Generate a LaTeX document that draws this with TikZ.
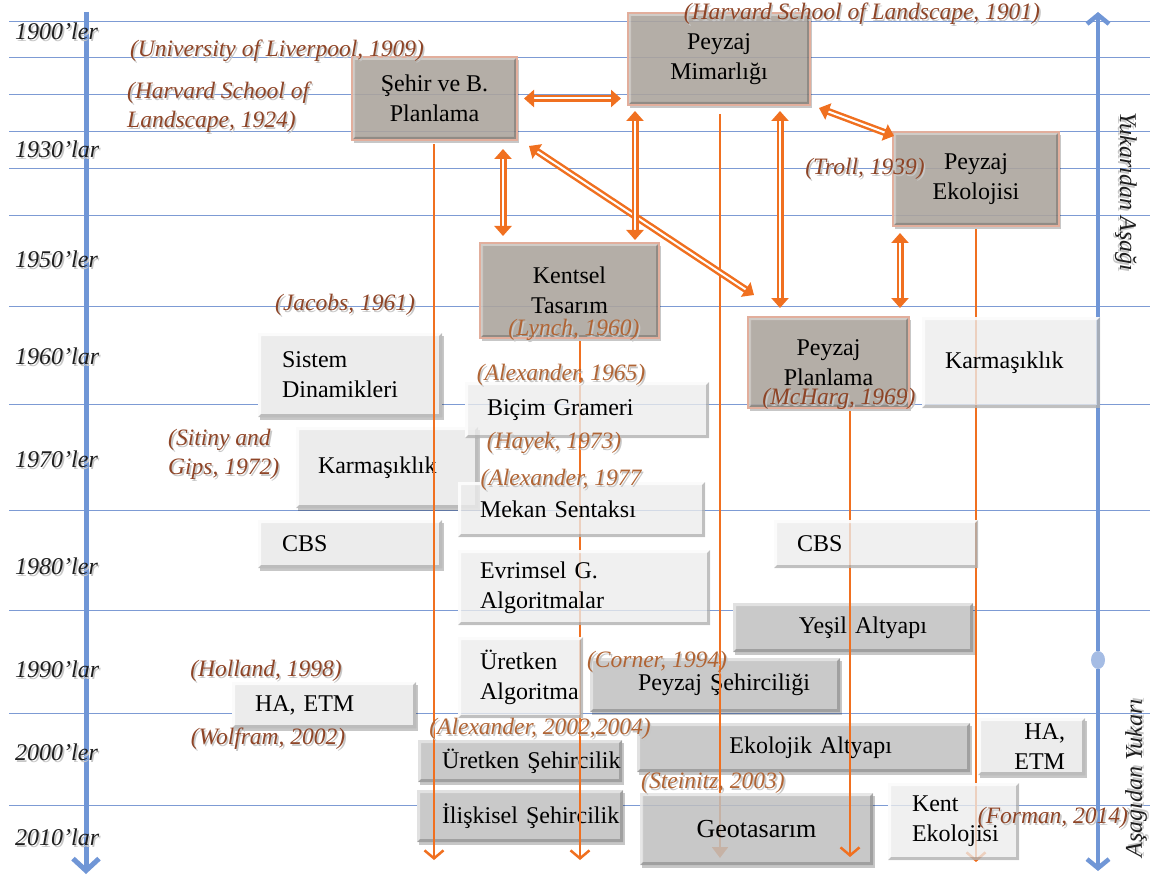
\documentclass[tikz,border=0pt]{standalone}
\usepackage{fontspec}
\setmainfont{Liberation Serif}
\usetikzlibrary{arrows.meta,shadows,shapes.geometric}
\hyphenpenalty=10000
\exhyphenpenalty=10000

\definecolor{gridB}{RGB}{125,155,212}
\definecolor{axisB}{RGB}{112,150,214}
\definecolor{orA}{RGB}{240,112,32}
\definecolor{brownF}{RGB}{178,170,162}
\definecolor{pinkE}{RGB}{226,174,156}
\definecolor{lightF}{RGB}{236,236,236}
\definecolor{darkF}{RGB}{201,201,201}
\definecolor{citeA}{RGB}{142,68,38}
\definecolor{citeB}{RGB}{176,100,52}
\definecolor{yearC}{RGB}{30,30,30}

% text with a soft offset shadow
\newcommand\shd[1]{\leavevmode\rlap{\kern1.6pt\raisebox{-2pt}{\textcolor{black!22}{#1}}}#1}

\tikzset{
  bevel/.style={path picture={
    \fill[white,opacity=#1] (path picture bounding box.south west) -- (path picture bounding box.north west)
      -- (path picture bounding box.north east) -- ([shift={(-3pt,-3pt)}]path picture bounding box.north east)
      -- ([shift={(3pt,-3pt)}]path picture bounding box.north west) -- ([shift={(3pt,3pt)}]path picture bounding box.south west) -- cycle;
    \fill[black,opacity=0.2] (path picture bounding box.south west) -- (path picture bounding box.south east)
      -- (path picture bounding box.north east) -- ([shift={(-3pt,-3pt)}]path picture bounding box.north east)
      -- ([shift={(-3pt,3pt)}]path picture bounding box.south east) -- ([shift={(3pt,3pt)}]path picture bounding box.south west) -- cycle;
  }},
  softshadow/.style={drop shadow={shadow xshift=2pt, shadow yshift=-3pt, opacity=0.22, fill=black}},
  box/.style={rectangle, inner sep=0pt, font=\fontsize{24}{30}\selectfont, text=black, align=center},
  brownbox/.style={box, fill=brownF, fill opacity=0.86, text opacity=1, draw=pinkE, line width=2pt, bevel=0.3, softshadow},
  lightbox/.style={box, fill=lightF, bevel=0.8, softshadow},
  overbox/.style={box, fill=lightF, fill opacity=0.78, text opacity=1, bevel=0.8},
  darkbox/.style={box, fill=darkF, bevel=0.45, softshadow},
  sz/.style 2 args={minimum width=#1pt, minimum height=#2pt},
  year/.style={anchor=west, inner sep=0pt, text=yearC, font=\fontsize{24}{29}\selectfont\itshape},
  cite/.style={inner sep=0pt, text=citeA, font=\fontsize{23.5}{29}\selectfont\itshape},
  citeb/.style={cite, text=citeB},
  gridline/.style={draw=gridB, line width=0.9pt},
  axis/.style={draw=axisB, line width=5pt},
  sgl/.style={draw=orA, line width=2.5pt, -{Straight Barb[length=8pt,width=19pt]}},
  dbl/.style={draw=orA, line width=2.5pt, double=white, double distance=2pt,
    {Triangle[length=10pt,width=17pt]}-{Triangle[length=10pt,width=17pt]}},
}

\begin{document}
\begin{tikzpicture}[x=1pt,y=-1pt]
\useasboundingbox (0,0) rectangle (1158,877);

% decade grid
\foreach \yy in {21,57,94,131,168,215,306,404,510,610,713,805}
  \draw[gridline] (9,\yy) -- (1150,\yy);

% time axes
\coordinate (lt) at (86,12);
\coordinate (lb) at (86,874);
\draw[axis, -{Straight Barb[length=12pt,width=26pt]}] (lt) -- (lb);
\node[ellipse, minimum width=14pt, minimum height=18pt, inner sep=0pt,
      fill={rgb,255:red,165;green,188;blue,228}, draw=none] (mid) at (1098,660) {};
\coordinate (rt) at (1098,12);
\coordinate (rb) at (1098,871);
\draw[axis, line width=4.5pt, -{Straight Barb[length=9pt,width=22pt]}] (mid) -- (rt);
\draw[axis, line width=4.5pt, -{Straight Barb[length=9pt,width=22pt]}] (mid) -- (rb);

% main disciplines
\node[brownbox, sz={165}{83}] (seh) at (434.5,98.5) {Şehir ve B.\\Planlama};
\node[brownbox, sz={182}{92}] (pmim) at (719,59) {Peyzaj\\Mimarlığı};
\node[brownbox, sz={166}{94}] (peko) at (976,179) {Peyzaj\\Ekolojisi};
\node[brownbox, sz={179}{95}] (ken) at (569.5,290.5) {Kentsel\\Tasarım};
\node[brownbox, sz={161}{91}] (ppla) at (828.5,362.5) {Peyzaj\\Planlama};

% approaches lying under the lines
\node[lightbox, sz={184}{84}, align=left, inner xsep=24pt, text width=136pt] (sis) at (350,375) {Sistem\\Dinamikleri};
\node[lightbox, sz={182}{81}, align=left, inner xsep=22pt, text width=138pt] (karL) at (387,467.5) {Karmaşıklık};
\node[lightbox, sz={184}{48}, align=left, inner xsep=24pt, text width=136pt] (cbsL) at (350,544) {CBS};
\node[lightbox, sz={184}{46}, align=left, inner xsep=23pt, text width=138pt] (haL) at (324,705) {HA, ETM};
\node[lightbox, sz={107}{57}, align=right, inner xsep=20pt, text width=67pt] (haR) at (1031.5,746.5) {HA,\\ETM};
\node[darkbox, sz={240}{49}, align=right, inner xsep=46pt, text width=148pt] (yes) at (853,627.5) {Yeşil Altyapı};
\node[darkbox, sz={250}{54}, align=right, inner xsep=30pt, text width=190pt] (psh) at (715,685) {Peyzaj Şehirciliği};
\node[darkbox, sz={333}{49}, align=right, inner xsep=78pt, text width=177pt] (eko) at (803.5,747.5) {Ekolojik Altyapı};
\node[darkbox, sz={204}{42}, align=left, inner xsep=24pt, text width=156pt] (ureS) at (520,761) {\mbox{Üretken Şehircilik}};
\node[darkbox, sz={206}{52}, align=left, inner xsep=25pt, text width=156pt] (ili) at (520,816) {\mbox{İlişkisel Şehircilik}};

% lines of influence
\coordinate (jE) at (720,858);
\draw[draw=orA, line width=2.5pt, shorten <=8pt, -{Triangle[length=11pt,width=16pt]}] (pmim.south -| jE) -- (jE);
\node[darkbox, fill opacity=0.8, text opacity=1, sz={233}{72}, font=\fontsize{26}{30}\selectfont] (geo) at (756.5,829) {Geotasarım};

\coordinate (hE) at (434,860);
\coordinate (iE) at (580,860);
\coordinate (kE) at (850,857);
\coordinate (lE) at (976,862);
\draw[sgl, shorten <=3pt] (seh.south -| hE) -- (hE);
\draw[sgl, shorten <=2pt] (ken.south -| iE) -- (iE);
\draw[sgl, shorten <=2pt] (ppla.south -| kE) -- (kE);
\draw[sgl, shorten <=2pt] (peko.south -| lE) -- (lE);

\draw[dbl, shorten <=6pt, shorten >=6pt] (seh.east) -- (pmim.west |- seh.east);
\draw[dbl, shorten <=8pt, shorten >=6pt] ([xshift=68.5pt]seh.south) -- ([xshift=-66.5pt]ken.north);
\draw[dbl] ([shift={(11pt,-5pt)}]seh.south east) -- ([shift={(7pt,21pt)}]ppla.north west);
\draw[dbl, shorten <=5pt, shorten >=2pt] ([xshift=-84pt]pmim.south) -- ([xshift=65.5pt]ken.north);
\draw[dbl, shorten <=5pt, shorten >=8pt] ([xshift=61pt]pmim.south) -- ([xshift=-48.5pt]ppla.north);
\draw[dbl] ([shift={(8pt,-2pt)}]pmim.south east) -- ([shift={(2pt,-5pt)}]peko.north west);
\draw[dbl, shorten <=6pt, shorten >=8pt] ([xshift=-76pt]peko.south) -- ([xshift=71.5pt]ppla.north);

% approaches lying over the lines
\node[overbox, sz={244}{56}, align=left, inner xsep=22pt, text width=200pt] (bic) at (587,410) {Biçim Grameri};
\node[overbox, sz={247}{55}, align=left, inner xsep=22pt, text width=203pt] (mek) at (581.5,509.5) {Mekan Sentaksı};
\node[overbox, sz={252}{75}, align=left, inner xsep=22pt, text width=208pt] (evr) at (584,587.5) {Evrimsel G.\\Algoritmalar};
\node[overbox, sz={125}{81}, align=left, inner xsep=22pt, text width=81pt] (ureA) at (520.5,677.5) {Üretken\\\mbox{Algoritma}};
\node[overbox, sz={204}{48}, align=left, inner xsep=23pt, text width=158pt] (cbsR) at (876,544) {CBS};
\node[overbox, sz={178}{91}, align=left, inner xsep=23pt, text width=132pt] (karR) at (1011,362.5) {Karmaşıklık};
\node[overbox, sz={131}{77}, align=left, inner xsep=24pt, text width=83pt] (kent) at (953.5,821.5) {Kent\\\mbox{Ekolojisi}};

% decades
\node[year] (d1900) at (15,32) {\shd{1900’ler}};
\node[year] (d1930) at (15,150) {\shd{1930’lar}};
\node[year] (d1950) at (15,260) {\shd{1950’ler}};
\node[year] (d1960) at (15,357) {\shd{1960’lar}};
\node[year] (d1970) at (15,460) {\shd{1970’ler}};
\node[year] (d1980) at (15,567) {\shd{1980’ler}};
\node[year] (d1990) at (15,670) {\shd{1990’lar}};
\node[year] (d2000) at (15,753) {\shd{2000’ler}};
\node[year] (d2010) at (15,838) {\shd{2010’lar}};

% direction labels
\node[rotate=-90, inner sep=0pt, text=yearC, font=\fontsize{24}{29}\selectfont\itshape] (down) at (1125,192) {\shd{Yukarıdan Aşağı}};
\node[rotate=90, inner sep=0pt, text=yearC, font=\fontsize{24}{29}\selectfont\itshape] (up) at (1137,778) {\shd{Aşağıdan Yukarı}};

% references
\node[cite] (c1901) at (862,15) {\shd{(Harvard School of Landscape, 1901)}};
\node[cite] (c1909) at (277,52) {\shd{(University of Liverpool, 1909)}};
\node[cite, anchor=west, align=left] (c1924) at (127,108) {\shd{(Harvard School of}\\\shd{Landscape, 1924)}};
\node[cite] (c1939) at (865,170) {\shd{(Troll, 1939)}};
\node[cite] (c1961) at (345,306) {\shd{(Jacobs, 1961)}};
\node[citeb] (c1960) at (574,331) {\shd{(Lynch, 1960)}};
\node[citeb] (c1965) at (561,376) {\shd{(Alexander, 1965)}};
\node[cite] (c1969) at (839,400) {\shd{(McHarg, 1969)}};
\node[cite, anchor=west, align=left] (c1972) at (168,455) {\shd{(Sitiny and}\\\shd{Gips, 1972)}};
\node[citeb] (c1973) at (554,444) {\shd{(Hayek, 1973)}};
\node[citeb] (c1977) at (561,481) {\shd{(Alexander, 1977}};
\node[cite] (c1998) at (266,672) {\shd{(Holland, 1998)}};
\node[cite] (c2002) at (268,740) {\shd{(Wolfram, 2002)}};
\node[citeb] (c1994) at (657,663) {\shd{(Corner, 1994)}};
\node[citeb] (c2004) at (540,730) {\shd{(Alexander, 2002,2004)}};
\node[citeb] (c2003) at (713,784) {\shd{(Steinitz, 2003)}};
\node[cite] (c2014) at (1053,819) {\shd{(Forman, 2014)}};
\end{tikzpicture}
\end{document}
